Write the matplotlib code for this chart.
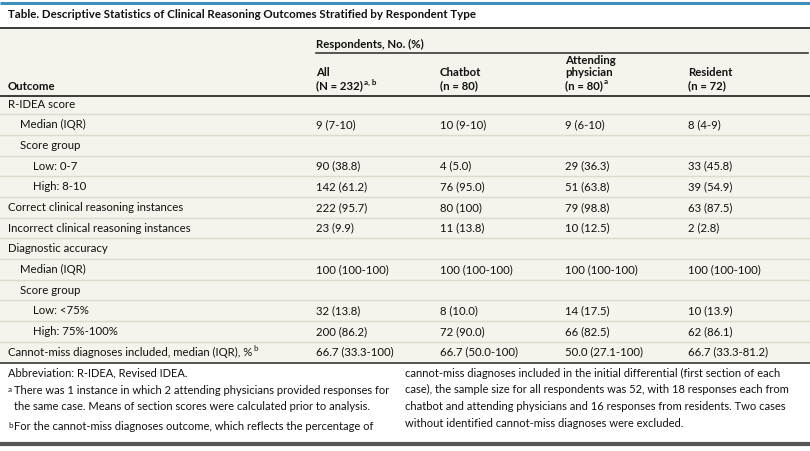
import matplotlib
matplotlib.use('Agg')
import matplotlib.pyplot as plt
from matplotlib.patches import Rectangle

# table content
title = 'Table. Descriptive Statistics of Clinical Reasoning Outcomes Stratified by Respondent Type'
group_header = 'Respondents, No. (%)'
col_heads = [['All', '(N = 232)'], ['Chatbot', '(n = 80)'],
             ['Attending', 'physician', '(n = 80)'], ['Resident', '(n = 72)']]
col_sups = ['a, b', '', 'a', '']

outcomes = ['R-IDEA score', 'Median (IQR)', 'Score group', 'Low: 0-7', 'High: 8-10',
            'Correct clinical reasoning instances', 'Incorrect clinical reasoning instances',
            'Diagnostic accuracy', 'Median (IQR)', 'Score group', 'Low: <75%',
            'High: 75%-100%', 'Cannot-miss diagnoses included, median (IQR), %']
indent = [0, 1, 1, 2, 2, 0, 0, 0, 1, 1, 2, 2, 0]
row_sups = ['', '', '', '', '', '', '', '', '', '', '', '', 'b']

all_vals = ['', '9 (7-10)', '', '90 (38.8)', '142 (61.2)', '222 (95.7)', '23 (9.9)',
            '', '100 (100-100)', '', '32 (13.8)', '200 (86.2)', '66.7 (33.3-100)']
chatbot_vals = ['', '10 (9-10)', '', '4 (5.0)', '76 (95.0)', '80 (100)', '11 (13.8)',
                '', '100 (100-100)', '', '8 (10.0)', '72 (90.0)', '66.7 (50.0-100)']
attending_vals = ['', '9 (6-10)', '', '29 (36.3)', '51 (63.8)', '79 (98.8)', '10 (12.5)',
                  '', '100 (100-100)', '', '14 (17.5)', '66 (82.5)', '50.0 (27.1-100)']
resident_vals = ['', '8 (4-9)', '', '33 (45.8)', '39 (54.9)', '63 (87.5)', '2 (2.8)',
                 '', '100 (100-100)', '', '10 (13.9)', '62 (86.1)', '66.7 (33.3-81.2)']

abbrev = 'Abbreviation: R-IDEA, Revised IDEA.'
note_a = ['There was 1 instance in which 2 attending physicians provided responses for',
          'the same case. Means of section scores were calculated prior to analysis.']
note_b = ['For the cannot-miss diagnoses outcome, which reflects the percentage of',
          'cannot-miss diagnoses included in the initial differential (first section of each',
          'case), the sample size for all respondents was 52, with 18 responses each from',
          'chatbot and attending physicians and 16 responses from residents. Two cases',
          'without identified cannot-miss diagnoses were excluded.']

plt.rcParams['font.family'] = ['Lato', 'DejaVu Sans']
W, H = 810, 451
fig = plt.figure(figsize=(W / 100, H / 100), dpi=100)
ax = fig.add_axes([0, 0, 1, 1])
ax.set_xlim(0, W)
ax.set_ylim(H, 0)
ax.axis('off')

BEIGE = '#f4f3ec'
DARK = '#3a3a3a'
TXT = '#111111'
FS = 8.2
FN = 8.0

col_x = [316, 440, 565, 688]
row_y0, row_h = 104, 20.67
table_bottom = 363

ax.add_patch(Rectangle((0, 29), W, table_bottom - 29, color=BEIGE, lw=0, zorder=0))
ax.plot([0, W], [3, 3], color='#3b8fb8', lw=2.2, solid_capstyle='butt')
ax.plot([0, W], [28, 28], color=DARK, lw=1.4)
ax.plot([col_x[0], W - 2], [53, 53], color=DARK, lw=1.2)
ax.plot([0, W], [96, 96], color=DARK, lw=1.4)
ax.plot([0, W], [table_bottom, table_bottom], color=DARK, lw=1.2)
ax.plot([0, W], [444, 444], color='#555555', lw=3)

ax.text(8, 15, title, fontsize=8.3, fontweight='bold', color=TXT, va='center')
ax.text(col_x[0], 44, group_header, fontsize=FS, fontweight='bold', color=TXT, va='center')
ax.text(8, 87, 'Outcome', fontsize=FS, fontweight='bold', color=TXT, va='center')

fig.canvas.draw()
renderer = fig.canvas.get_renderer()


def sup_after(t, s, size=5.8, dy=-4):
    # put a superscript right after text t
    bb = t.get_window_extent(renderer)
    x_end = ax.transData.inverted().transform((bb.x1, bb.y0))[0]
    y = t.get_position()[1]
    ax.text(x_end + 0.8, y + dy, s, fontsize=size, color=TXT, va='center',
            fontweight=t.get_fontweight())


for x, lines, sup in zip(col_x, col_heads, col_sups):
    ys = [86 - 13 * (len(lines) - 1 - i) for i in range(len(lines))]
    for i, (line, y) in enumerate(zip(lines, ys)):
        t = ax.text(x, y, line, fontsize=FS, fontweight='bold', color=TXT, va='center')
        if i == len(lines) - 1 and sup:
            sup_after(t, sup)

for i, label in enumerate(outcomes):
    y = row_y0 + i * row_h
    if i > 0:
        ax.plot([0, W], [y - row_h / 2, y - row_h / 2], color='#dedbcd', lw=1.0, zorder=1)
    t = ax.text(8 + 12.5 * indent[i], y, label, fontsize=FS, color=TXT, va='center')
    if row_sups[i]:
        sup_after(t, row_sups[i])
    for x, vals in zip(col_x, [all_vals, chatbot_vals, attending_vals, resident_vals]):
        ax.text(x, y, vals[i], fontsize=FS, color=TXT, va='center')

# footnotes
ax.text(8, 373, abbrev, fontsize=FN, color=TXT, va='center')
ax.text(8, 389, 'a', fontsize=5.8, color=TXT, va='center')
ax.text(14, 391, note_a[0], fontsize=FN, color=TXT, va='center')
ax.text(14, 407, note_a[1], fontsize=FN, color=TXT, va='center')
ax.text(8, 425, 'b', fontsize=5.8, color=TXT, va='center')
ax.text(14, 427, note_b[0], fontsize=FN, color=TXT, va='center')
for k, line in enumerate(note_b[1:]):
    ax.text(405, 373 + k * 16.7, line, fontsize=FN, color=TXT, va='center')

fig.savefig('out.png', dpi=100)
